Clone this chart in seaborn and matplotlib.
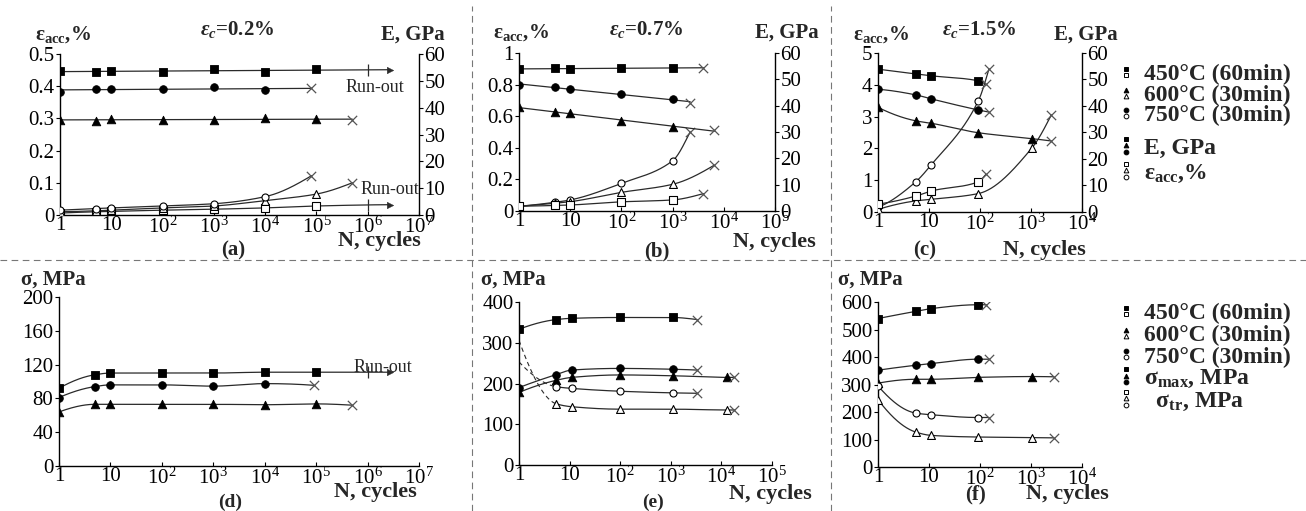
import numpy as np
import matplotlib
matplotlib.use('Agg')
import matplotlib.pyplot as plt
import seaborn as sns
from matplotlib.ticker import FuncFormatter, NullLocator
from matplotlib.lines import Line2D
from matplotlib.legend_handler import HandlerBase
from matplotlib.font_manager import FontProperties

# ======================= DATA =======================
# (a) eps_c = 0.2 %
N_a = [1, 5, 10, 1e2, 1e3, 1e4, 1e5]
N_a750 = [1, 5, 10, 1e2, 1e3, 1e4]
a_E_450 = [53.5, 53.3, 53.8, 53.2, 54.4, 53.3, 54.4]
a_E_600 = [35.4, 35.2, 35.9, 35.5, 35.3, 36.0, 35.8]
a_E_750 = [46.0, 47.0, 47.0, 46.9, 47.7, 46.4]
a_eps_450 = [0.006, 0.010, 0.011, 0.015, 0.018, 0.022, 0.028]
a_eps_600 = [0.010, 0.013, 0.015, 0.022, 0.028, 0.045, 0.065]
a_eps_750 = [0.015, 0.020, 0.022, 0.028, 0.035, 0.057]
a_fail_N_600, a_fail_E_600, a_fail_eps_600 = 5e5, 35.5, 0.100
a_fail_N_750, a_fail_E_750, a_fail_eps_750 = 8e4, 47.2, 0.122
a_runout_N, a_runout_E_450, a_runout_eps_450 = 2.7e6, 54.0, 0.032
runout_mark_N = 1e6

# (b) eps_c = 0.7 %
N_b = [1, 5, 10, 1e2, 1e3]
b_E_450 = [53.9, 54.2, 53.9, 54.4, 54.2]
b_E_600 = [39.4, 37.5, 37.1, 34.3, 32.0]
b_E_750 = [48.0, 47.0, 46.3, 44.4, 42.5]
b_eps_450 = [0.030, 0.035, 0.038, 0.058, 0.070]
b_eps_600 = [0.030, 0.049, 0.059, 0.118, 0.169]
b_eps_750 = [0.030, 0.055, 0.070, 0.175, 0.318]
b_fail_N_450, b_fail_E_450, b_fail_eps_450 = 4000, 54.4, 0.110
b_fail_N_600, b_fail_E_600, b_fail_eps_600 = 6500, 30.6, 0.290
b_fail_N_750, b_fail_E_750, b_fail_eps_750 = 2200, 41.1, 0.500

# (c) eps_c = 1.5 %
N_c = [1, 5.5, 11, 93]
N_c600 = [1, 5.5, 11, 93, 1050]
c_E_450 = [53.9, 52.1, 51.4, 49.5]
c_E_600 = [39.5, 34.4, 33.5, 29.9, 27.7]
c_E_750 = [46.3, 44.2, 42.7, 38.5]
c_eps_450 = [0.25, 0.50, 0.66, 0.95]
c_eps_600 = [0.08, 0.35, 0.40, 0.58, 2.02]
c_eps_750 = [0.15, 0.95, 1.48, 3.50]
c_fail_N_450, c_fail_E_450, c_fail_eps_450 = 130, 48.2, 1.18
c_fail_N_600, c_fail_E_600, c_fail_eps_600 = 2500, 26.8, 3.05
c_fail_N_750, c_fail_E_750, c_fail_eps_750 = 150, 37.7, 4.50

# (d) sigma, eps_c = 0.2 %
N_d = [1, 5, 10, 1e2, 1e3, 1e4, 1e5]
N_d750 = [1, 5, 10, 1e2, 1e3, 1e4]
d_max_450 = [92, 108, 110, 110, 110, 111, 111]
d_max_600 = [64, 73, 73, 73, 73, 72.5, 73.5]
d_max_750 = [81, 94, 96, 96, 94.5, 97.5]
d_fail_N_600, d_fail_600 = 5e5, 72
d_fail_N_750, d_fail_750 = 9e4, 95.5
d_runout_N, d_runout_450 = 2.7e6, 111

# (e) sigma, eps_c = 0.7 %
N_e = [1, 5.5, 11, 1e2, 1.1e3]
N_e600 = [1, 5.5, 11, 1e2, 1.1e3, 1.3e4]
e_max_450 = [333, 357, 360, 362, 362]
e_max_600 = [178, 208, 215, 221, 219, 215]
e_max_750 = [190, 222, 233, 237, 235]
e_tr_600 = [306, 150, 143, 137, 137, 135]   # first value = start of dashed branch
e_tr_750 = [253, 192, 188, 181, 177]
e_fail_N_450, e_fail_max_450 = 3300, 357
e_fail_N_600, e_fail_max_600, e_fail_tr_600 = 1.8e4, 215, 135
e_fail_N_750, e_fail_max_750, e_fail_tr_750 = 3300, 233, 176

# (f) sigma, eps_c = 1.5 %
N_f = [1, 5.5, 11, 90]
N_f600 = [1, 5.5, 11, 90, 1050]
f_max_450 = [540, 566, 576, 590]
f_max_600 = [305, 319, 319, 326, 329]
f_max_750 = [352, 370, 376, 392]
f_tr_600 = [245, 127, 115, 109, 107]
f_tr_750 = [295, 196, 190, 180]
f_fail_N_450, f_fail_max_450 = 133, 590
f_fail_N_600, f_fail_max_600, f_fail_tr_600 = 2800, 328, 106
f_fail_N_750, f_fail_max_750, f_fail_tr_750 = 150, 392, 180

legend_temps = ['450°C (60min)', '600°C (30min)', '750°C (30min)']
# ===========================================================================

sns.set_theme(style='white')
plt.rcParams['font.family'] = ['Liberation Serif', 'DejaVu Serif']
plt.rcParams['mathtext.fontset'] = 'custom'
plt.rcParams['mathtext.rm'] = 'Liberation Serif'
plt.rcParams['mathtext.it'] = 'Liberation Serif:italic:bold'
plt.rcParams['mathtext.bf'] = 'Liberation Serif:bold'
plt.rcParams['axes.unicode_minus'] = False

W, H = 1306, 511
fig = plt.figure(figsize=(W / 100, H / 100), dpi=100)
fig.patch.set_facecolor('white')

LINE = '#2a2a2a'
XCOL = '#555555'
TICK_FS = 15


def px_axes(l, t, r, b):
    return fig.add_axes([l / W, 1 - b / H, (r - l) / W, (b - t) / H])


def T(x, y, s, size=15, weight='bold', ha='center', va='center', **kw):
    fig.text(x / W, 1 - y / H, s, size=size, weight=weight, ha=ha, va=va, **kw)


def xfmt(v, p):
    k = int(round(np.log10(v)))
    if k == 0:
        return '1'
    if k == 1:
        return '10'
    return r'$\mathdefault{10^{%d}}$' % k


def style(ax, xexp, ylim, yticks, yfmt='%g'):
    ax.set_xscale('log')
    ax.set_xlim(1, 10 ** xexp)
    ax.set_ylim(*ylim)
    ax.set_xticks([10.0 ** k for k in range(xexp + 1)])
    ax.xaxis.set_major_formatter(FuncFormatter(xfmt))
    ax.xaxis.set_minor_locator(NullLocator())
    ax.set_yticks(yticks)
    ax.yaxis.set_major_formatter(FuncFormatter(lambda v, p: yfmt % v))
    for s in ['top', 'right']:
        ax.spines[s].set_visible(False)
    for s in ['left', 'bottom']:
        ax.spines[s].set_color('black')
        ax.spines[s].set_linewidth(1.0)
    ax.tick_params(axis='y', direction='out', length=3, width=0.8, labelsize=TICK_FS, pad=1, colors='black', left=True)
    ax.tick_params(axis='x', direction='in', length=3, width=0.8, labelsize=TICK_FS, pad=1, colors='black', bottom=True)
    ax.set_facecolor('none')
    ax.grid(False)
    ax.set_xlabel('')
    ax.set_ylabel('')


def _edge(h0, h1, m0, m1):
    d = ((2 * h0 + h1) * m0 - h0 * m1) / (h0 + h1)
    if np.sign(d) != np.sign(m0):
        d = 0.0
    elif np.sign(m0) != np.sign(m1) and abs(d) > abs(3 * m0):
        d = 3 * m0
    return d


def pchip(x, y, xn):
    x = np.asarray(x, float)
    y = np.asarray(y, float)
    n = len(x)
    h = np.diff(x)
    d = np.diff(y) / h
    m = np.zeros(n)
    if n == 2:
        m[:] = d[0]
    else:
        for k in range(1, n - 1):
            if d[k - 1] * d[k] > 0:
                w1 = 2 * h[k] + h[k - 1]
                w2 = h[k] + 2 * h[k - 1]
                m[k] = (w1 + w2) / (w1 / d[k - 1] + w2 / d[k])
        m[0] = _edge(h[0], h[1], d[0], d[1])
        m[-1] = _edge(h[-1], h[-2], d[-1], d[-2])
    idx = np.clip(np.searchsorted(x, xn) - 1, 0, n - 2)
    t = (xn - x[idx]) / h[idx]
    h00 = 2 * t ** 3 - 3 * t ** 2 + 1
    h10 = t ** 3 - 2 * t ** 2 + t
    h01 = -2 * t ** 3 + 3 * t ** 2
    h11 = t ** 3 - t ** 2
    return h00 * y[idx] + h10 * h[idx] * m[idx] + h01 * y[idx + 1] + h11 * h[idx] * m[idx + 1]


def series(ax, N, v, marker, filled, fail=None, runout=None, mode='pchip',
           dashed_until=None, first_marker=0):
    xs = list(N)
    ys = list(v)
    if fail is not None:
        xs.append(fail[0]); ys.append(fail[1])
    if runout is not None:
        xs.append(runout[0]); ys.append(runout[1])
    lx = np.log10(xs)
    g = np.linspace(lx[0], lx[-1], 400)
    if mode == 'fit':
        yg = np.polyval(np.polyfit(lx, ys, 1), g)
    else:
        yg = pchip(lx, ys, g)
    xg = 10 ** g
    if dashed_until is not None:
        cut = g <= np.log10(dashed_until)
        sns.lineplot(x=xg[cut], y=yg[cut], ax=ax, color=LINE, linewidth=0.8,
                     linestyle=(0, (4, 3)), estimator=None, sort=False, legend=False)
        k = max(cut.sum() - 1, 0)
        sns.lineplot(x=xg[k:], y=yg[k:], ax=ax, color=LINE, linewidth=0.9,
                     estimator=None, sort=False, legend=False)
    else:
        sns.lineplot(x=xg, y=yg, ax=ax, color=LINE, linewidth=0.9,
                     estimator=None, sort=False, legend=False)
    size = {'s': 30, '^': 38, 'o': 30}[marker]
    if filled:
        sns.scatterplot(x=list(N)[first_marker:], y=list(v)[first_marker:], ax=ax, marker=marker,
                        s=size, color='black', edgecolor='black', linewidth=0.6, zorder=6, legend=False)
    else:
        sns.scatterplot(x=list(N)[first_marker:], y=list(v)[first_marker:], ax=ax, marker=marker,
                        s=size * 0.85, color='white', edgecolor='black', linewidth=0.8, zorder=6, legend=False)
    if fail is not None:
        sns.scatterplot(x=[fail[0]], y=[fail[1]], ax=ax, marker='x', s=45, color=XCOL,
                        linewidth=0.9, zorder=7, legend=False)
    if runout is not None:
        sns.scatterplot(x=[runout[0]], y=[yg[-1]], ax=ax, marker='>', s=22, color=LINE,
                        edgecolor=LINE, linewidth=0.3, zorder=7, legend=False)
        ym = np.interp(np.log10(runout_mark_N), g, yg)
        sns.scatterplot(x=[runout_mark_N], y=[ym], ax=ax, marker='|', s=70, color=LINE,
                        linewidth=0.9, zorder=7, legend=False)


# ---------------- axes ----------------
ax_a = px_axes(60, 54, 419, 215)
ax_b = px_axes(519, 53, 775, 211)
ax_c = px_axes(878, 53, 1082, 212)
ax_d = px_axes(59, 297, 419, 466)
ax_e = px_axes(519, 302, 772, 465)
ax_f = px_axes(878, 302, 1082, 467)

for ax, xe in [(ax_a, 7), (ax_b, 5), (ax_c, 4), (ax_d, 7), (ax_e, 5), (ax_f, 4)]:
    ax.set_xscale('log')
    ax.set_xlim(1, 10 ** xe)

ax_a2 = ax_a.twinx()
ax_b2 = ax_b.twinx()
ax_c2 = ax_c.twinx()

# ---------------- (a) ----------------
series(ax_a2, N_a, a_E_450, 's', True, runout=(a_runout_N, a_runout_E_450), mode='fit')
series(ax_a2, N_a750, a_E_750, 'o', True, fail=(a_fail_N_750, a_fail_E_750), mode='fit')
series(ax_a2, N_a, a_E_600, '^', True, fail=(a_fail_N_600, a_fail_E_600), mode='fit')
series(ax_a, N_a, a_eps_450, 's', False, runout=(a_runout_N, a_runout_eps_450))
series(ax_a, N_a, a_eps_600, '^', False, fail=(a_fail_N_600, a_fail_eps_600))
series(ax_a, N_a750, a_eps_750, 'o', False, fail=(a_fail_N_750, a_fail_eps_750))

# ---------------- (b) ----------------
series(ax_b2, N_b, b_E_450, 's', True, fail=(b_fail_N_450, b_fail_E_450), mode='fit')
series(ax_b2, N_b, b_E_750, 'o', True, fail=(b_fail_N_750, b_fail_E_750), mode='fit')
series(ax_b2, N_b, b_E_600, '^', True, fail=(b_fail_N_600, b_fail_E_600), mode='fit')
series(ax_b, N_b, b_eps_750, 'o', False, fail=(b_fail_N_750, b_fail_eps_750))
series(ax_b, N_b, b_eps_600, '^', False, fail=(b_fail_N_600, b_fail_eps_600))
series(ax_b, N_b, b_eps_450, 's', False, fail=(b_fail_N_450, b_fail_eps_450))

# ---------------- (c) ----------------
series(ax_c2, N_c, c_E_450, 's', True, fail=(c_fail_N_450, c_fail_E_450))
series(ax_c2, N_c, c_E_750, 'o', True, fail=(c_fail_N_750, c_fail_E_750))
series(ax_c2, N_c600, c_E_600, '^', True, fail=(c_fail_N_600, c_fail_E_600))
series(ax_c, N_c, c_eps_750, 'o', False, fail=(c_fail_N_750, c_fail_eps_750))
series(ax_c, N_c600, c_eps_600, '^', False, fail=(c_fail_N_600, c_fail_eps_600))
series(ax_c, N_c, c_eps_450, 's', False, fail=(c_fail_N_450, c_fail_eps_450))

# ---------------- (d) ----------------
series(ax_d, N_d, d_max_450, 's', True, runout=(d_runout_N, d_runout_450))
series(ax_d, N_d750, d_max_750, 'o', True, fail=(d_fail_N_750, d_fail_750))
series(ax_d, N_d, d_max_600, '^', True, fail=(d_fail_N_600, d_fail_600))

# ---------------- (e) ----------------
series(ax_e, N_e, e_max_450, 's', True, fail=(e_fail_N_450, e_fail_max_450))
series(ax_e, N_e, e_max_750, 'o', True, fail=(e_fail_N_750, e_fail_max_750))
series(ax_e, N_e600, e_max_600, '^', True, fail=(e_fail_N_600, e_fail_max_600))
series(ax_e, N_e, e_tr_750, 'o', False, fail=(e_fail_N_750, e_fail_tr_750),
       dashed_until=N_e[1], first_marker=1)
series(ax_e, N_e600, e_tr_600, '^', False, fail=(e_fail_N_600, e_fail_tr_600),
       dashed_until=N_e600[1], first_marker=1)

# ---------------- (f) ----------------
series(ax_f, N_f, f_max_450, 's', True, fail=(f_fail_N_450, f_fail_max_450))
series(ax_f, N_f, f_max_750, 'o', True, fail=(f_fail_N_750, f_fail_max_750))
series(ax_f, N_f600, f_max_600, '^', True, fail=(f_fail_N_600, f_fail_max_600))
series(ax_f, N_f, f_tr_750, 'o', False, fail=(f_fail_N_750, f_fail_tr_750))
series(ax_f, N_f600, f_tr_600, '^', False, fail=(f_fail_N_600, f_fail_tr_600))

# ---------------- styling ----------------
style(ax_a, 7, (0, 0.5), [0, 0.1, 0.2, 0.3, 0.4, 0.5])
style(ax_b, 5, (0, 1.0), [0, 0.2, 0.4, 0.6, 0.8, 1.0])
style(ax_c, 4, (0, 5), [0, 1, 2, 3, 4, 5])
style(ax_d, 7, (0, 200), [0, 40, 80, 120, 160, 200])
style(ax_e, 5, (0, 400), [0, 100, 200, 300, 400])
style(ax_f, 4, (0, 600), [0, 100, 200, 300, 400, 500, 600])
for a2 in [ax_a2, ax_b2, ax_c2]:
    a2.set_ylim(0, 60)
    a2.set_yticks([0, 10, 20, 30, 40, 50, 60])
    a2.yaxis.set_major_formatter(FuncFormatter(lambda v, p: '%g' % v))
    for s in ['top', 'left', 'bottom']:
        a2.spines[s].set_visible(False)
    a2.spines['right'].set_visible(True)
    a2.spines['right'].set_color('black')
    a2.spines['right'].set_linewidth(1.0)
    a2.tick_params(axis='y', direction='out', length=3, width=0.8, labelsize=TICK_FS, pad=1,
                   colors='black', right=True)
    a2.set_ylabel('')
    a2.set_xlabel('')
    a2.grid(False)
    a2.set_facecolor('none')

# ---------------- texts ----------------
EPS_ACC = r'$\mathbf{ε}_{\mathbf{acc}}$,%'
T(63, 35, EPS_ACC, size=15)
T(237, 30, r'$ε_c$=0.2%', size=15)
T(413, 35, 'E, GPa', size=15)
T(379, 241, 'N, cycles', size=16)
T(233, 250, '(a)', size=15)
T(375, 87, 'Run-out', size=13, weight='normal')
T(390, 190, 'Run-out', size=13, weight='normal')

T(521, 33, EPS_ACC, size=15)
T(646, 30, r'$ε_c$=0.7%', size=15)
T(787, 33, 'E, GPa', size=15)
T(774, 242, 'N, cycles', size=16)
T(657, 251, '(b)', size=15)

T(881, 35, EPS_ACC, size=15)
T(979, 30, r'$ε_c$=1.5%', size=15)
T(1086, 35, 'E, GPa', size=15)
T(1044, 250, 'N, cycles', size=16)
T(925, 250, '(c)', size=15)

T(53, 280, 'σ, MPa', size=15)
T(375, 492, 'N, cycles', size=16)
T(230, 502, '(d)', size=14)
T(383, 368, 'Run-out', size=13, weight='normal')

T(513, 280, 'σ, MPa', size=15)
T(770, 494, 'N, cycles', size=16)
T(653, 502, '(e)', size=14)

T(870, 280, 'σ, MPa', size=15)
T(1067, 494, 'N, cycles', size=16)
T(975, 494, '(f)', size=15)

# ---------------- separators ----------------
for xv in [472, 831]:
    fig.add_artist(Line2D([xv / W, xv / W], [0, 1 - 6 / H], transform=fig.transFigure,
                          color='#777777', lw=0.8, linestyle=(0, (6, 4))))
fig.add_artist(Line2D([0, 1], [1 - 260 / H, 1 - 260 / H], transform=fig.transFigure,
                      color='#777777', lw=0.8, linestyle=(0, (6, 4))))


# ---------------- legends ----------------
class Stack:
    def __init__(self, specs, dy, ms):
        self.specs, self.dy, self.ms = specs, dy, ms


class StackHandler(HandlerBase):
    def create_artists(self, legend, orig_handle, xdescent, ydescent, width, height, fontsize, trans):
        h = orig_handle
        n = len(h.specs)
        x0 = width / 2 - xdescent
        y0 = height / 2 - ydescent
        arts = []
        for i, (m, filled) in enumerate(h.specs):
            yy = y0 + ((n - 1) / 2 - i) * h.dy
            arts.append(Line2D([x0], [yy], ls='none', marker=m, markersize=h.ms,
                               markerfacecolor='black' if filled else 'white',
                               markeredgecolor='black', markeredgewidth=0.7, transform=trans))
        return arts


LP = FontProperties(family='Liberation Serif', weight='bold', size=17)
pair = lambda m: Stack([(m, True), (m, False)], 4.2, 3.4)
fills = Stack([('s', True), ('^', True), ('o', True)], 4.6, 3.4)
opens = Stack([('s', False), ('^', False), ('o', False)], 4.6, 3.4)
common = dict(handler_map={Stack: StackHandler()}, loc='upper left', frameon=False, prop=LP,
              handlelength=0.6, handletextpad=0.45, borderpad=0, borderaxespad=0)

fig.legend([pair('s'), pair('^'), pair('o')], legend_temps,
           bbox_to_anchor=(1119 / W, 1 - 64 / H), labelspacing=-0.05, **common)
fig.legend([fills, opens], ['E, GPa', EPS_ACC],
           bbox_to_anchor=(1119 / W, 1 - 137 / H), labelspacing=0.15, **common)
fig.legend([pair('s'), pair('^'), pair('o'), fills, opens],
           legend_temps + [r'$\mathbf{σ}_{\mathbf{max}}$, MPa', r'  $\mathbf{σ}_{\mathbf{tr}}$, MPa'],
           bbox_to_anchor=(1119 / W, 1 - 303 / H), labelspacing=0.0, **common)

fig.savefig('out.png', dpi=100, facecolor='white')
